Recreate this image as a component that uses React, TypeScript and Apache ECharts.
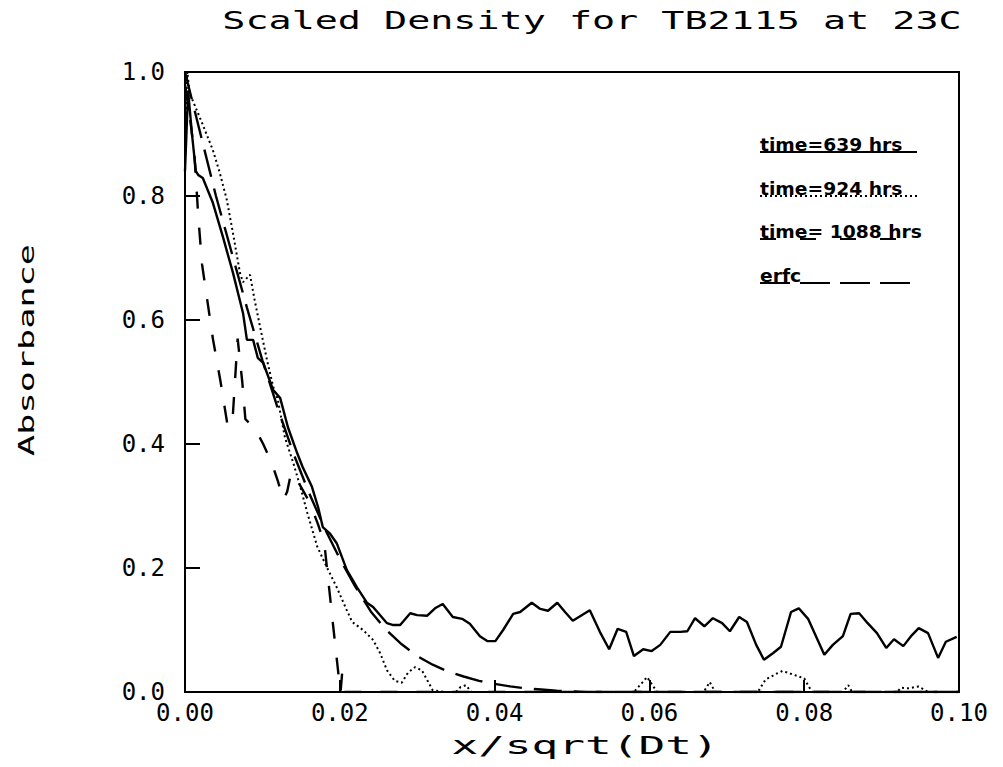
import React, { useEffect, useRef } from "react";
import * as echarts from "echarts";

const TITLE = "Scaled Density for TB2115 at 23C";
const X_NAME = "x/sqrt(Dt)";
const Y_NAME = "Absorbance";
const seriesNames = ["time=639 hrs", "time=924 hrs", "time= 1088 hrs", "erfc"];

const s639: number[][] = [
  [0.0000, 0.84], [0.0004, 0.97], [0.0009, 0.90], [0.0014, 0.84], [0.0017, 0.834], [0.0023, 0.829],
  [0.0036, 0.789], [0.0049, 0.734], [0.0062, 0.676], [0.0075, 0.611], [0.0080, 0.568], [0.0088, 0.568],
  [0.0094, 0.539], [0.0101, 0.531], [0.0114, 0.487], [0.0123, 0.474], [0.0133, 0.427], [0.0145, 0.385],
  [0.0152, 0.363], [0.0164, 0.331], [0.0172, 0.298], [0.0178, 0.266], [0.0187, 0.256], [0.0196, 0.240],
  [0.0209, 0.197], [0.0222, 0.169], [0.0235, 0.144], [0.0243, 0.137], [0.0261, 0.111], [0.0269, 0.108],
  [0.0278, 0.108], [0.0291, 0.127], [0.0300, 0.124], [0.0313, 0.123], [0.0323, 0.135], [0.0333, 0.142],
  [0.0346, 0.121], [0.0358, 0.118], [0.0368, 0.110], [0.0381, 0.090], [0.0391, 0.082], [0.0401, 0.082],
  [0.0411, 0.100], [0.0424, 0.126], [0.0433, 0.129], [0.0448, 0.144], [0.0459, 0.134], [0.0469, 0.131],
  [0.0481, 0.144], [0.0491, 0.129], [0.0501, 0.115], [0.0523, 0.132], [0.0536, 0.097], [0.0548, 0.069],
  [0.0559, 0.102], [0.0570, 0.097], [0.0580, 0.058], [0.0592, 0.069], [0.0603, 0.066], [0.0614, 0.076],
  [0.0627, 0.097], [0.0640, 0.097], [0.0649, 0.098], [0.0659, 0.119], [0.0671, 0.106], [0.0682, 0.119],
  [0.0694, 0.111], [0.0704, 0.098], [0.0716, 0.121], [0.0726, 0.113], [0.0738, 0.076], [0.0748, 0.052],
  [0.0760, 0.063], [0.0770, 0.073], [0.0783, 0.129], [0.0793, 0.135], [0.0805, 0.118], [0.0826, 0.060],
  [0.0837, 0.076], [0.0850, 0.090], [0.0860, 0.126], [0.0871, 0.127], [0.0882, 0.111], [0.0894, 0.095],
  [0.0906, 0.071], [0.0916, 0.085], [0.0928, 0.074], [0.0938, 0.090], [0.0948, 0.103], [0.0960, 0.095],
  [0.0973, 0.055], [0.0983, 0.081], [0.0997, 0.089],
];

const s924: number[][] = [
  [0.0000, 0.90], [0.0003, 1.00], [0.0006, 0.966], [0.0022, 0.918], [0.0036, 0.874], [0.0045, 0.837],
  [0.0054, 0.794], [0.0062, 0.740], [0.0071, 0.676], [0.0075, 0.661], [0.0084, 0.673], [0.0090, 0.632],
  [0.0097, 0.589], [0.0106, 0.535], [0.0114, 0.492], [0.0120, 0.471], [0.0129, 0.411], [0.0140, 0.369],
  [0.0149, 0.331], [0.0158, 0.289], [0.0171, 0.234], [0.0183, 0.202], [0.0196, 0.169], [0.0209, 0.132],
  [0.0216, 0.113], [0.0230, 0.100], [0.0243, 0.084], [0.0252, 0.063], [0.0261, 0.035], [0.0271, 0.018],
  [0.0280, 0.015], [0.0288, 0.031], [0.0297, 0.040], [0.0306, 0.035], [0.0313, 0.019], [0.0320, 0.003],
  [0.0335, 0.0], [0.0350, 0.0], [0.0356, 0.008], [0.0363, 0.011], [0.0370, 0.0], [0.0580, 0.0],
  [0.0590, 0.014], [0.0597, 0.024], [0.0604, 0.011], [0.0610, 0.0], [0.0670, 0.0], [0.0678, 0.016],
  [0.0685, 0.0], [0.0740, 0.0], [0.0750, 0.020], [0.0765, 0.030], [0.0772, 0.034], [0.0786, 0.028],
  [0.0800, 0.022], [0.0810, 0.0], [0.0850, 0.0], [0.0857, 0.011], [0.0862, 0.0], [0.0920, 0.0],
  [0.0925, 0.007], [0.0935, 0.006], [0.0948, 0.009], [0.0960, 0.0], [0.1000, 0.0],
];

const s1088: number[][] = [
  [0.0000, 0.98], [0.0006, 0.93], [0.0012, 0.87], [0.0017, 0.77], [0.0022, 0.69], [0.0029, 0.63],
  [0.0036, 0.57], [0.0046, 0.50], [0.0055, 0.43], [0.0061, 0.43], [0.0068, 0.57], [0.0074, 0.50],
  [0.0078, 0.44], [0.0090, 0.426], [0.0101, 0.40], [0.0112, 0.37], [0.0120, 0.34], [0.0127, 0.31],
  [0.0132, 0.323], [0.0137, 0.353], [0.0148, 0.335], [0.0161, 0.306], [0.0172, 0.27], [0.0180, 0.24],
  [0.0186, 0.17], [0.0192, 0.10], [0.0199, 0.02], [0.0201, 0.0], [0.0203, 0.03], [0.0206, 0.0],
  [0.1000, 0.0],
];

const sErfc: number[][] = [
  [0.000, 1.0], [0.002, 0.90], [0.004, 0.80], [0.006, 0.71], [0.008, 0.62], [0.010, 0.535],
  [0.012, 0.457], [0.014, 0.385], [0.016, 0.322], [0.018, 0.265], [0.020, 0.215], [0.022, 0.170],
  [0.024, 0.130], [0.026, 0.100], [0.028, 0.077], [0.030, 0.058], [0.032, 0.044], [0.034, 0.033],
  [0.036, 0.025], [0.038, 0.018], [0.040, 0.013], [0.042, 0.009], [0.044, 0.006], [0.046, 0.004],
  [0.048, 0.002], [0.050, 0.001], [0.052, 0.0], [0.100, 0.0],
];

const seriesData = [s639, s924, s1088, sErfc];
const lineDashes: any[] = ["solid", [2, 3], [17, 19], [28, 12]];

export default function App() {
  const ref = useRef<HTMLDivElement>(null);
  useEffect(() => {
    const chart = echarts.init(ref.current!, null, { renderer: "svg" });
    const mono = "'DejaVu Sans Mono', monospace";
    const legendY = [152, 196, 239, 283];
    const legendGraphics: any[] = [];
    seriesNames.forEach((name, i) => {
      legendGraphics.push({
        type: "text",
        x: 760,
        y: legendY[i] + 1,
        scaleX: 1.1,
        style: {
          text: name,
          font: "bold 17px 'DejaVu Sans', sans-serif",
          fill: "#000",
          align: "left",
          verticalAlign: "bottom",
          textAlign: "left",
          textVerticalAlign: "bottom",
        },
      });
      legendGraphics.push({
        type: "line",
        shape: { x1: 760, y1: legendY[i], x2: i === 2 ? 905 : 917, y2: legendY[i] },
        style: {
          stroke: "#000",
          lineWidth: 2,
          lineDash: i === 0 ? null : i === 1 ? [2, 3] : i === 2 ? [16, 24] : [30, 10],
        },
      });
    });

    chart.setOption({
      animation: false,
      backgroundColor: "#fff",
      grid: {
        left: 185,
        top: 72,
        width: 774,
        height: 620,
        show: true,
        borderColor: "#000",
        borderWidth: 2,
      },
      xAxis: {
        type: "value",
        min: 0,
        max: 0.1,
        interval: 0.02,
        axisLine: { show: true, lineStyle: { color: "#000", width: 2 } },
        axisTick: { show: true, inside: true, length: 12, lineStyle: { color: "#000", width: 2 } },
        axisLabel: {
          color: "#000",
          fontSize: 24,
          fontFamily: mono,
          margin: 9,
          formatter: (v: number) => v.toFixed(2),
        },
        splitLine: { show: false },
      },
      yAxis: {
        type: "value",
        min: 0,
        max: 1,
        interval: 0.2,
        axisLine: { show: true, lineStyle: { color: "#000", width: 2 } },
        axisTick: { show: true, inside: true, length: 15, lineStyle: { color: "#000", width: 2 } },
        axisLabel: {
          color: "#000",
          fontSize: 24,
          fontFamily: mono,
          margin: 20,
          formatter: (v: number) => v.toFixed(1),
        },
        splitLine: { show: false },
      },
      graphic: [
        {
          type: "text",
          x: 592,
          y: 21,
          scaleX: 1.6,
          style: {
            text: TITLE,
            font: "24px " + mono,
            fill: "#000",
            align: "center",
            verticalAlign: "middle",
            textAlign: "center",
            textVerticalAlign: "middle",
          },
        },
        {
          type: "text",
          x: 585,
          y: 746,
          scaleX: 1.85,
          style: {
            text: X_NAME,
            font: "24px " + mono,
            fill: "#000",
            align: "center",
            verticalAlign: "middle",
            textAlign: "center",
            textVerticalAlign: "middle",
          },
        },
        {
          type: "text",
          x: 27,
          y: 350,
          rotation: Math.PI / 2,
          scaleX: 1.6,
          style: {
            text: Y_NAME,
            font: "22px " + mono,
            fill: "#000",
            align: "center",
            verticalAlign: "middle",
            textAlign: "center",
            textVerticalAlign: "middle",
          },
        },
        ...legendGraphics,
      ],
      series: seriesData.map((d, i) => ({
        name: seriesNames[i],
        type: "line",
        data: d,
        showSymbol: false,
        symbol: "none",
        lineStyle: { color: "#000", width: i === 1 ? 2 : 2.4, type: lineDashes[i] },
        z: 3,
      })),
    });
    return () => chart.dispose();
  }, []);
  return (
    <div
      ref={ref}
      style={{ position: "fixed", left: 0, top: 0, width: 1003, height: 767, background: "#fff" }}
    />
  );
}
